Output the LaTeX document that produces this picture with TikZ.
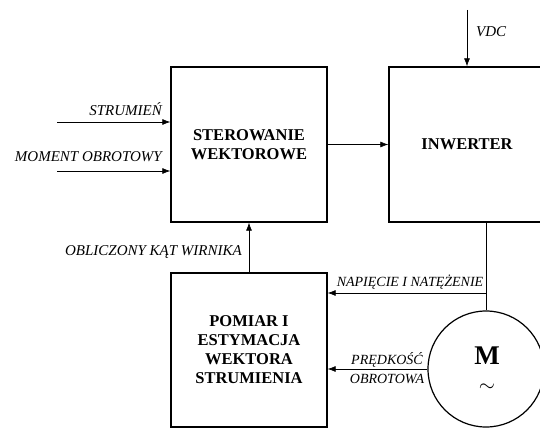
\documentclass[tikz,border=0pt]{standalone}
\usepackage{fontspec}
\setmainfont{Liberation Serif}
\usetikzlibrary{arrows.meta}
\tikzset{
  blok/.style={draw, line width=1.4pt, minimum width=156pt, minimum height=155pt,
    inner sep=2pt, align=center, font=\fontsize{16.5}{19}\selectfont\bfseries},
  opis/.style={inner sep=1pt, font=\fontsize{15}{18}\selectfont\itshape},
  opismaly/.style={inner sep=1pt, align=center, font=\fontsize{14}{19}\selectfont\itshape},
}
\begin{document}
\begin{tikzpicture}[x=1pt, y=-1pt, >={Latex[length=8pt,width=6pt]}]
\useasboundingbox (0,0) rectangle (540,428);
\clip (0,0) rectangle (540,428);
% bloki
\node[blok] (B1) at (249,144.5) {STEROWANIE\\WEKTOROWE};
\node[blok] (B2) at (467,144.5) {INWERTER};
\node[blok, minimum height=154pt] (B3) at (249,350) {POMIAR I\\ESTYMACJA\\WEKTORA\\STRUMIENIA};
% silnik
\node[shape=circle, draw, line width=1.2pt, minimum size=116pt, inner sep=0pt] (M) at (486,369) {};
\node[inner sep=0pt, font=\fontsize{27}{30}\selectfont\bfseries] (Mtxt) at (487,356) {M};
\node[inner sep=0pt, font=\fontsize{22}{24}\selectfont] (Mfala) at (487,388) {$\sim$};
% wejscia
\coordinate (S1) at (57,122);
\coordinate (S2) at (57,171);
\coordinate (VDCtop) at (467,10);
\coordinate (R) at (486,293);
\draw[->, semithick] (S1) -- (B1.west |- S1);
\draw[->, semithick] (S2) -- (B1.west |- S2);
\draw[->, semithick] (VDCtop) -- (B2.north);
\draw[->, semithick] (B1.east) -- (B2.west);
\draw[->, semithick] (B3.north) -- (B1.south);
\draw[semithick] (B2.south -| R) -- (M.north);
\draw[->, semithick] (R) -- (B3.east |- R);
\draw[->, semithick] (M.west) -- (B3.east |- M.west);
% opisy
\node[opis, anchor=east] (L1) at (163,109) {STRUMIEŃ};
\node[opis, anchor=east] (L2) at (163,157) {MOMENT OBROTOWY};
\node[opis, anchor=west] (L3) at (475,32) {VDC};
\node[opis, anchor=east] (L4) at (243,252) {OBLICZONY KĄT WIRNIKA};
\node[opismaly] (L5) at (410,282) {NAPIĘCIE I NATĘŻENIE};
\node[opismaly] (L6) at (387,368) {PRĘDKOŚĆ\\OBROTOWA};
\end{tikzpicture}
\end{document}
